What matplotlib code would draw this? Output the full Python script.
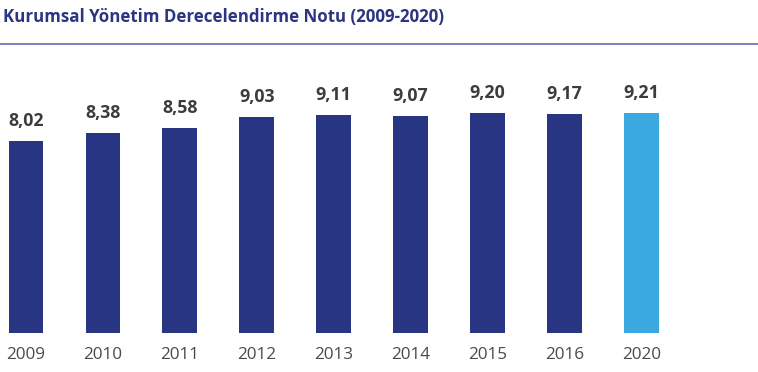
import matplotlib
matplotlib.use("Agg")
import matplotlib.pyplot as plt
from matplotlib.lines import Line2D

years = ["2009", "2010", "2011", "2012", "2013", "2014", "2015", "2016", "2020"]
values = [8.02, 8.38, 8.58, 9.03, 9.11, 9.07, 9.20, 9.17, 9.21]
labels = ["8,02", "8,38", "8,58", "9,03", "9,11", "9,07", "9,20", "9,17", "9,21"]
title = "Kurumsal Yönetim Derecelendirme Notu (2009-2020)"

navy = "#283583"
light = "#3aa9e1"
colors = [navy] * (len(years) - 1) + [light]

W, H = 758, 372
fig = plt.figure(figsize=(W / 100, H / 100), dpi=100)
plt.rcParams['font.family'] = ['Open Sans', 'DejaVu Sans']

ax = fig.add_axes([0, 1 - 333 / H, 1, 240 / H])
x = list(range(len(years)))
ax.bar(x, values, width=0.45, color=colors, edgecolor='none')
ax.set_xlim(-26 / 76.9, (W - 26) / 76.9)
ax.set_ylim(0, 240 / 23.9)
for s in ax.spines.values():
    s.set_visible(False)
ax.set_yticks([])
ax.set_xticks(x)
ax.set_xticklabels(years, fontsize=12.3, color="#4a4a4a")
ax.tick_params(axis='x', length=0, pad=10)

for xi, v, lab in zip(x, values, labels):
    ax.annotate(lab, (xi, v), xytext=(0, 8), textcoords='offset points',
                ha='center', va='bottom', fontsize=12.8, fontweight='bold',
                color="#3c3c3c")

fig.text(3 / W, 1 - 17 / H, title, ha='left', va='center', fontsize=12.2,
         fontweight='bold', color="#2b3580")
fig.add_artist(Line2D([0, 1], [1 - 44 / H, 1 - 44 / H], transform=fig.transFigure,
                      color="#6a6cb5", linewidth=1.2))

fig.savefig("out.png", dpi=100)
